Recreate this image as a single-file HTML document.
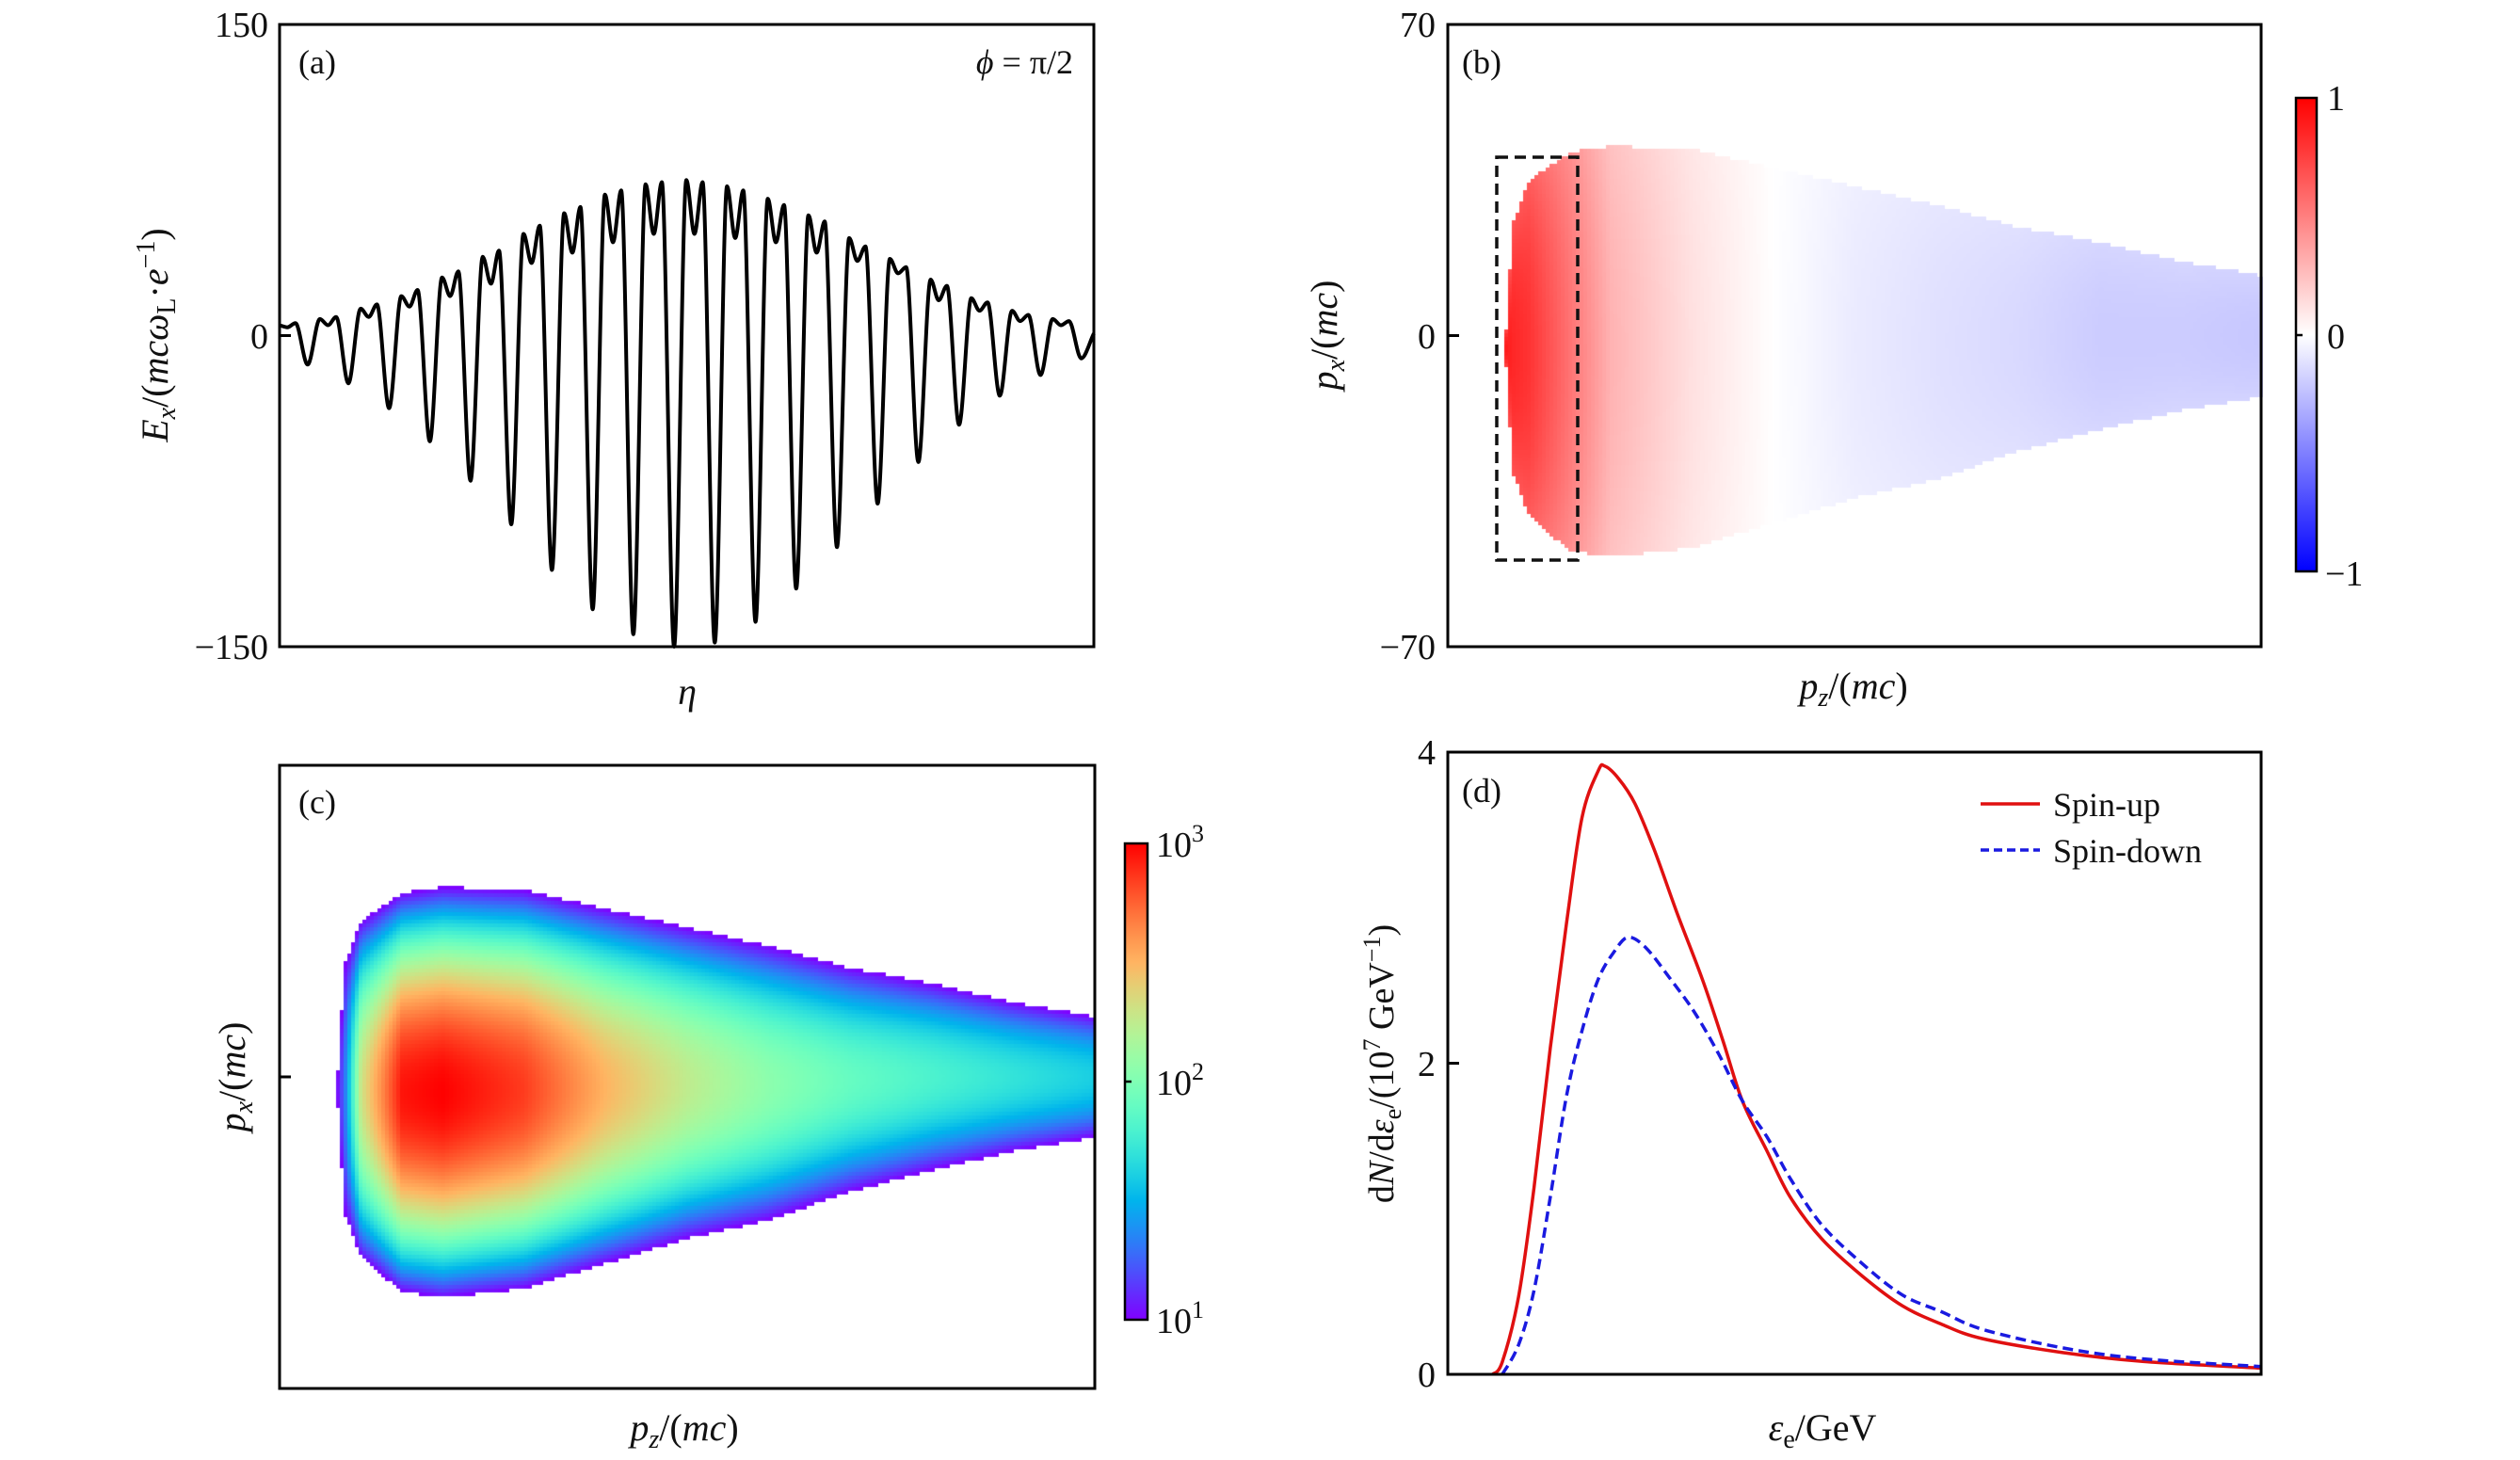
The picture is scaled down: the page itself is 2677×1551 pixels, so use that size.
<!DOCTYPE html>
<html><head><meta charset="utf-8">
<style>
html,body{margin:0;padding:0;background:#fff;}
#wrap{position:relative;width:2677px;height:1551px;overflow:hidden;background:#fff;}
canvas{position:absolute;}
svg{position:absolute;left:0;top:0;}
text{font-family:"Liberation Serif",serif;fill:#111;}
</style></head>
<body>
<div id="wrap">
<canvas id="cvB" width="866" height="662" style="left:1538px;top:26px"></canvas>
<canvas id="cvC" width="866" height="662" style="left:297px;top:813px"></canvas>
<svg id="svg" width="2677" height="1551" viewBox="0 0 2677 1551">
<defs>
<linearGradient id="gB" x1="0" y1="1" x2="0" y2="0">
<stop offset="0" stop-color="#0000ff"/><stop offset="0.5" stop-color="#ffffff"/><stop offset="1" stop-color="#ff0000"/>
</linearGradient>
<linearGradient id="gC" x1="0" y1="1" x2="0" y2="0"></linearGradient>
</defs>

<g>
<path id="curveA" d="" fill="none" stroke="#000" stroke-width="4" stroke-linejoin="round"/>
<rect x="297" y="26" width="865" height="661" fill="none" stroke="#000" stroke-width="3"/>
<line x1="297" y1="356.5" x2="309" y2="356.5" stroke="#000" stroke-width="3"/>
<text x="285" y="39" font-size="38" text-anchor="end">150</text>
<text x="285" y="370" font-size="38" text-anchor="end">0</text>
<text x="285" y="700" font-size="38" text-anchor="end">−150</text>
<text x="317" y="78" font-size="36">(a)</text>
<text x="1140" y="78" font-size="36" text-anchor="end"><tspan font-style="italic">ϕ</tspan> = π/2</text>
<text x="730" y="748" font-size="40" font-style="italic" text-anchor="middle">η</text>
<text transform="translate(178,356) rotate(-90)" font-size="40" text-anchor="middle"><tspan font-style="italic">E</tspan><tspan font-style="italic" font-size="28" dy="8">x</tspan><tspan dy="-8">/(</tspan><tspan font-style="italic">mcω</tspan><tspan font-size="28" dy="8">L</tspan><tspan dy="-8">·</tspan><tspan font-style="italic">e</tspan><tspan font-size="28" dy="-14">−1</tspan><tspan dy="14">)</tspan></text>
</g>

<g>
<rect x="1538" y="26" width="864" height="661" fill="none" stroke="#000" stroke-width="3"/>
<rect x="1590" y="167" width="86" height="428" fill="none" stroke="#111" stroke-width="3.5" stroke-dasharray="12,7"/>
<line x1="1538" y1="356.5" x2="1550" y2="356.5" stroke="#000" stroke-width="3"/>
<text x="1525" y="39" font-size="38" text-anchor="end">70</text>
<text x="1525" y="370" font-size="38" text-anchor="end">0</text>
<text x="1525" y="700" font-size="38" text-anchor="end">−70</text>
<text x="1553" y="78" font-size="36">(b)</text>
<text x="1969" y="742" font-size="40" text-anchor="middle"><tspan font-style="italic">p</tspan><tspan font-style="italic" font-size="28" dy="8">z</tspan><tspan dy="-8">/(</tspan><tspan font-style="italic">mc</tspan>)</text>
<text transform="translate(1420,356) rotate(-90)" font-size="40" text-anchor="middle"><tspan font-style="italic">p</tspan><tspan font-style="italic" font-size="28" dy="8">x</tspan><tspan dy="-8">/(</tspan><tspan font-style="italic">mc</tspan>)</text>
<rect x="2439" y="104" width="22" height="503" fill="url(#gB)" stroke="#000" stroke-width="2.5"/>
<line x1="2439" y1="356" x2="2446" y2="356" stroke="#000" stroke-width="2.5"/>
<text x="2472" y="117" font-size="38">1</text>
<text x="2472" y="370" font-size="38">0</text>
<text x="2470" y="622" font-size="38">−1</text>
</g>

<g>
<rect x="297" y="813" width="866" height="662" fill="none" stroke="#000" stroke-width="3"/>
<line x1="297" y1="1144" x2="309" y2="1144" stroke="#000" stroke-width="3"/>
<text x="317" y="864" font-size="36">(c)</text>
<text x="727" y="1530" font-size="40" text-anchor="middle"><tspan font-style="italic">p</tspan><tspan font-style="italic" font-size="28" dy="8">z</tspan><tspan dy="-8">/(</tspan><tspan font-style="italic">mc</tspan>)</text>
<text transform="translate(260,1144) rotate(-90)" font-size="40" text-anchor="middle"><tspan font-style="italic">p</tspan><tspan font-style="italic" font-size="28" dy="8">x</tspan><tspan dy="-8">/(</tspan><tspan font-style="italic">mc</tspan>)</text>
<rect x="1195" y="896" width="24" height="506" fill="url(#gC)" stroke="#000" stroke-width="2.5"/>
<line x1="1195" y1="1149" x2="1202" y2="1149" stroke="#000" stroke-width="2.5"/>
<text x="1228" y="910" font-size="38">10<tspan font-size="26" dy="-16">3</tspan></text>
<text x="1228" y="1163" font-size="38">10<tspan font-size="26" dy="-16">2</tspan></text>
<text x="1228" y="1416" font-size="38">10<tspan font-size="26" dy="-16">1</tspan></text>
</g>

<g>
<path id="lineUp" d="" fill="none" stroke="#e01010" stroke-width="3.5" stroke-linejoin="round"/>
<path id="lineDown" d="" fill="none" stroke="#1a1ae0" stroke-width="3.5" stroke-dasharray="11,6"/>
<rect x="1538" y="799" width="864" height="661" fill="none" stroke="#000" stroke-width="3"/>
<line x1="1538" y1="1129.5" x2="1550" y2="1129.5" stroke="#000" stroke-width="3"/>
<text x="1525" y="812" font-size="38" text-anchor="end">4</text>
<text x="1525" y="1143" font-size="38" text-anchor="end">2</text>
<text x="1525" y="1473" font-size="38" text-anchor="end">0</text>
<text x="1553" y="852" font-size="36">(d)</text>
<line x1="2104" y1="854" x2="2167" y2="854" stroke="#e01010" stroke-width="3.5"/>
<text x="2181" y="867" font-size="36">Spin-up</text>
<line x1="2104" y1="903" x2="2167" y2="903" stroke="#1a1ae0" stroke-width="3.5" stroke-dasharray="9,5"/>
<text x="2181" y="916" font-size="36">Spin-down</text>
<text x="1936" y="1530" font-size="40" text-anchor="middle"><tspan font-style="italic">ε</tspan><tspan font-size="28" dy="8">e</tspan><tspan dy="-8">/GeV</tspan></text>
<text transform="translate(1480,1130) rotate(-90)" font-size="38" text-anchor="middle">d<tspan font-style="italic">N</tspan>/d<tspan font-style="italic">ε</tspan><tspan font-size="26" dy="8">e</tspan><tspan dy="-8">/(10</tspan><tspan font-size="26" dy="-14">7</tspan><tspan dy="14"> GeV</tspan><tspan font-size="26" dy="-14">−1</tspan><tspan dy="14">)</tspan></text>
</g>
</svg>
</div>
<script>
// ---------- Panel (a) data: extrema of Ex per laser cycle ----------
const aTroughs=[-14,-23,-35,-51,-70,-91,-113,-132,-144,-150,-148,-138,-122,-102,-81,-61,-43,-29,-19,-11];
const aPeak1=[8,13,19,28,38,49,59,68,73,75,72,66,58,47,37,27,18,12,8];
const aDip=[5,9,14,19,25,35,40,45,49,49,47,45,40,36,30,17,12,7,5];
const aPeak2=[9,15,22,31,41,53,62,70,74,74,70,63,55,43,33,24,16,10,7];
const aLead=[5,4,6];
const aEnd=1;
const aFirstTrough=0.69;
const aEtaMax=20;

// ---------- Panel (d) data ----------
const dEpsUp=[5.5,6.7,8.7,10.6,12.6,14.6,16.5,18.5,19.3,21,23,25.4,28.3,31.3,33.8,36.2,39.2,42.1,46,51,55.9,60.8,65.7,75.6,85.4,100];
const dUp=[0,0.08,0.5,1.2,2.1,2.9,3.58,3.88,3.91,3.83,3.67,3.37,2.95,2.54,2.15,1.76,1.44,1.14,0.87,0.63,0.44,0.32,0.23,0.14,0.083,0.04];
const dEpsDown=[6.7,8.7,10.6,12.6,14.6,16.5,18.5,20.5,22.2,24.4,27.4,30.3,33.3,36.2,39.2,42.1,46,51,55.9,60.8,65.7,75.6,85.4,100];
const dDown=[0,0.19,0.54,1.14,1.79,2.21,2.54,2.72,2.81,2.74,2.54,2.33,2.06,1.76,1.53,1.26,0.96,0.71,0.51,0.40,0.29,0.17,0.10,0.05];

// ---------- Panel (b),(c) data: per-column beam profile ----------
const colPz=[0.07,0.08,0.1,0.15,0.2,0.3,0.4,0.5,0.6,0.7,0.8,0.9,1.0];
const halfW=[0.0,0.20,0.27,0.32,0.33,0.32,0.285,0.25,0.22,0.18,0.15,0.12,0.097];
const logPeak=[1.0,1.3,2.3,2.95,3.0,2.85,2.5,2.25,2.05,1.9,1.8,1.7,1.6];
const centerOff=[0.02,0.02,0.02,0.025,0.025,0.02,0.015,0.01,0.01,0.005,0.0,0.0,0.0];
const polCol=[0.9,0.85,0.8,0.55,0.3,0.12,0.0,-0.08,-0.12,-0.15,-0.2,-0.2,-0.22];

const ax=e=>297+e/aEtaMax*865;
const ay=v=>356.5-v/150*330.5;
const dx=e=>1538+e/100*864;
const dy=v=>1460-v/4*661;

function monotone(pts){
  const n=pts.length,m=new Array(n),dl=[];
  for(let i=0;i<n-1;i++)dl.push((pts[i+1][1]-pts[i][1])/(pts[i+1][0]-pts[i][0]));
  m[0]=dl[0];m[n-1]=dl[n-2];
  for(let i=1;i<n-1;i++){
    if(dl[i-1]*dl[i]<=0)m[i]=0;
    else{const h0=pts[i][0]-pts[i-1][0],h1=pts[i+1][0]-pts[i][0];
      const w1=2*h1+h0,w2=h1+2*h0;m[i]=(w1+w2)/(w1/dl[i-1]+w2/dl[i]);}
  }
  let d='M'+pts[0][0].toFixed(1)+','+pts[0][1].toFixed(1);
  for(let i=0;i<n-1;i++){
    const h=(pts[i+1][0]-pts[i][0])/3;
    d+='C'+(pts[i][0]+h).toFixed(1)+','+(pts[i][1]+m[i]*h).toFixed(1)+' '+(pts[i+1][0]-h).toFixed(1)+','+(pts[i+1][1]-m[i+1]*h).toFixed(1)+' '+pts[i+1][0].toFixed(1)+','+pts[i+1][1].toFixed(1);
  }
  return d;
}
function catmull(pts){
  let d='M'+pts[0][0].toFixed(1)+','+pts[0][1].toFixed(1);
  for(let i=0;i<pts.length-1;i++){
    const p0=pts[i-1]||pts[i],p1=pts[i],p2=pts[i+1],p3=pts[i+2]||pts[i+1];
    const c1=[p1[0]+(p2[0]-p0[0])/6,p1[1]+(p2[1]-p0[1])/6];
    const c2=[p2[0]-(p3[0]-p1[0])/6,p2[1]-(p3[1]-p1[1])/6];
    d+='C'+c1[0].toFixed(1)+','+c1[1].toFixed(1)+' '+c2[0].toFixed(1)+','+c2[1].toFixed(1)+' '+p2[0].toFixed(1)+','+p2[1].toFixed(1);
  }
  return d;
}
(function(){
  const pts=[];
  pts.push([ax(0),ay(aLead[0])]);
  pts.push([ax(aFirstTrough-0.5),ay(aLead[1])]);
  pts.push([ax(aFirstTrough-0.3),ay(aLead[2])]);
  for(let k=0;k<aTroughs.length;k++){
    const t=aFirstTrough+k;
    pts.push([ax(t),ay(aTroughs[k])]);
    if(k<aPeak1.length){
      pts.push([ax(t+0.3),ay(aPeak1[k])]);
      pts.push([ax(t+0.5),ay(aDip[k])]);
      pts.push([ax(t+0.7),ay(aPeak2[k])]);
    }
  }
  pts.push([ax(aEtaMax),ay(aEnd)]);
  document.getElementById('curveA').setAttribute('d',monotone(pts));
})();
document.getElementById('lineUp').setAttribute('d',catmull(dEpsUp.map((e,i)=>[dx(e),dy(dUp[i])])));
document.getElementById('lineDown').setAttribute('d',catmull(dEpsDown.map((e,i)=>[dx(e),dy(dDown[i])])));

function interp(arr,f){
  if(f<=colPz[0])return arr[0];
  for(let i=0;i<colPz.length-1;i++){
    if(f<=colPz[i+1]){const t=(f-colPz[i])/(colPz[i+1]-colPz[i]);return arr[i]+(arr[i+1]-arr[i])*t;}
  }
  return arr[arr.length-1];
}
function rainbow(t){
  t=Math.max(0,Math.min(1,t));
  const r=Math.min(1,Math.abs(2*t-0.5)),g=Math.sin(Math.PI*t),b=Math.cos(Math.PI*t/2);
  return [r,g,b].map(v=>Math.round(Math.max(0,v)*255));
}
(function(){
  const g=document.getElementById('gC');
  for(let i=0;i<=20;i++){
    const c=rainbow(i/20);
    const s=document.createElementNS('http://www.w3.org/2000/svg','stop');
    s.setAttribute('offset',i/20);
    s.setAttribute('stop-color','rgb('+c.join(',')+')');
    g.appendChild(s);
  }
})();
function drawHeat(id,mode){
  const cv=document.getElementById(id),ctx=cv.getContext('2d');
  const W=cv.width,H=cv.height,cs=4;
  for(let x=0;x<W;x+=cs){
    const f=(x+cs/2)/W;
    if(f<colPz[0])continue;
    const hw=interp(halfW,f),pk=interp(logPeak,f),off=interp(centerOff,f),pol=interp(polCol,f);
    if(hw<=0.001)continue;
    for(let y=0;y<H;y+=cs){
      const yf=(y+cs/2)/H;
      const r=Math.abs(yf-0.5-off)/hw;
      if(r>1)continue;
      let col;
      if(mode==='c'){
        const v=1+(pk-1)*(1-r*r);
        col=rainbow((v-1)/2);
      }else{
        let p=pol*(1-0.2*r*r);
        if(p>=0)col=[255,Math.round(255*(1-p)),Math.round(255*(1-p))];
        else col=[Math.round(255*(1+p)),Math.round(255*(1+p)),255];
      }
      ctx.fillStyle='rgb('+col.join(',')+')';
      ctx.fillRect(x,y,cs,cs);
    }
  }
}
drawHeat('cvC','c');
drawHeat('cvB','b');
</script>
</body></html>
